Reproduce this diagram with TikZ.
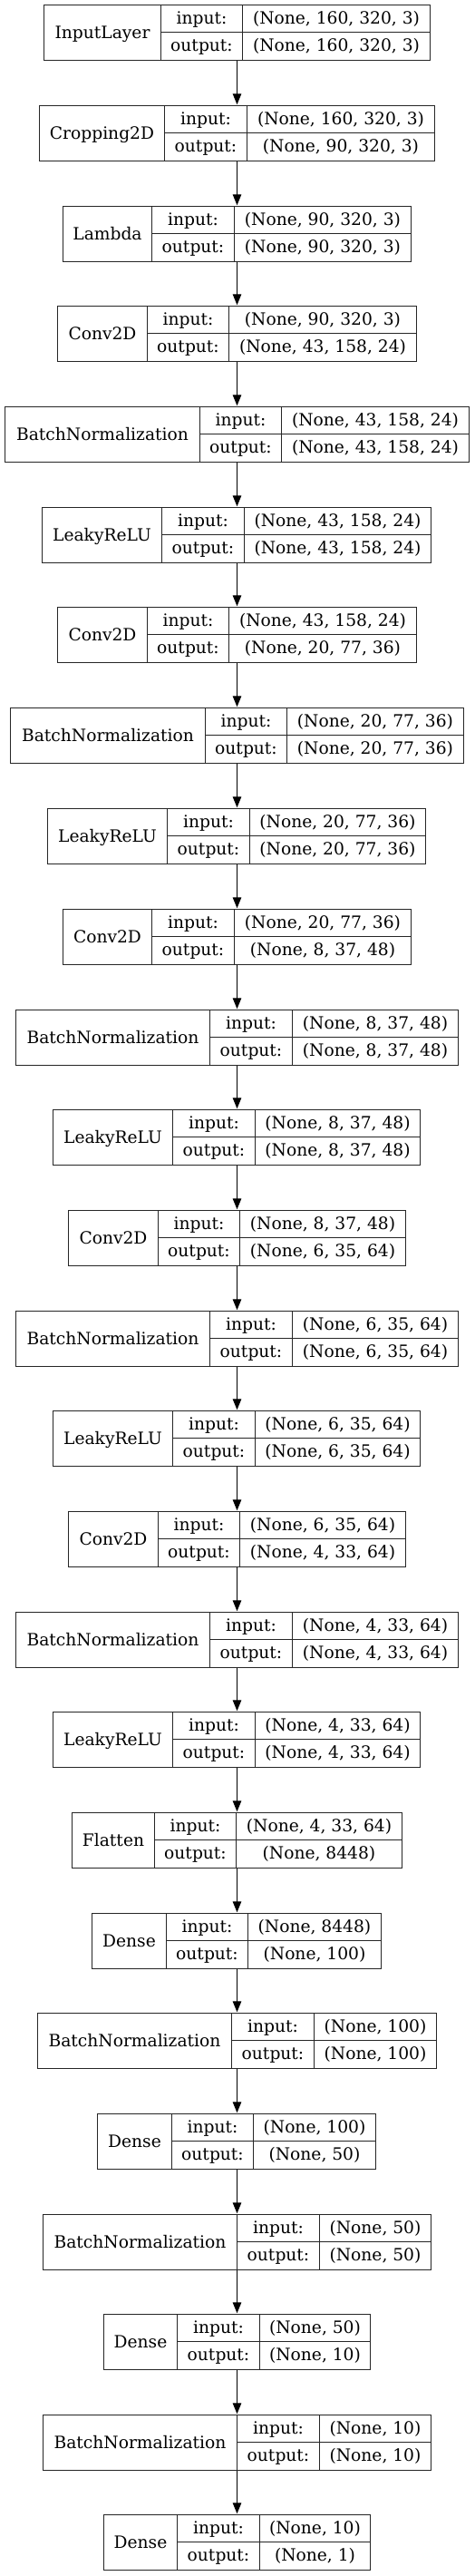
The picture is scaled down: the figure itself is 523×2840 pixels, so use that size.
\documentclass[tikz,border=0pt]{standalone}
\usepackage{fontspec}
\setmainfont{DejaVu Serif}
\usetikzlibrary{arrows.meta}
\tikzset{
  layerbox/.style={draw=black!85, line width=1.3pt, inner sep=0pt, minimum height=61pt},
  cellline/.style={draw=black!85, line width=1.3pt},
  txt/.style={inner sep=0pt, anchor=base, font=\fontsize{18.67}{22}\selectfont, text=black},
  flow/.style={draw=black, line width=1.3pt, -{Triangle[length=12pt,width=9.5pt]}, shorten >=0.6pt},
}
% #1 name, #2 top y, #3 left, #4 first divider, #5 second divider, #6 right, #7 label, #8 input, #9 output
\newcommand\klayer[9]{%
  \pgfmathsetmacro\klyt{#2}%
  \pgfmathsetmacro\klyb{\klyt+61}%
  \pgfmathsetmacro\klym{\klyt+30}%
  \pgfmathsetmacro\klyc{\klyt+30.5}%
  \pgfmathsetmacro\klw{#6-#3}%
  \pgfmathsetmacro\klxc{(#3+#6)/2}%
  \node[layerbox, minimum width=\klw pt] (#1) at (\klxc,\klyc) {};
  \draw[cellline] (#4,\klyt) -- (#4,\klyb);
  \draw[cellline] (#5,\klyt) -- (#5,\klyb);
  \draw[cellline] (#4,\klym) -- (#6,\klym);
  \node[txt] (#1-lab) at ({(#3+#4)/2},{\klyc+6.3}) {#7};
  \node[txt] (#1-ik) at ({(#4+#5)/2},{\klyt+21.1}) {input:};
  \node[txt] (#1-iv) at ({(#5+#6)/2},{\klyt+21.1}) {#8};
  \node[txt] (#1-ok) at ({(#4+#5)/2},{\klym+21.3}) {output:};
  \node[txt] (#1-ov) at ({(#5+#6)/2},{\klym+21.3}) {#9};
}
\begin{document}
\begin{tikzpicture}[x=1pt,y=-1pt]
\useasboundingbox[fill=white] (0,0) rectangle (523,2840);
\coordinate (ax) at (261.5,0);
\klayer{b1}{5.5}{48.5}{177.5}{267.5}{474.5}{InputLayer}{(None, 160, 320, 3)}{(None, 160, 320, 3)}
\klayer{b2}{116.5}{43.5}{181.5}{272.5}{479.5}{Cropping2D}{(None, 160, 320, 3)}{(None, 90, 320, 3)}
\klayer{b3}{227.5}{69.5}{167.5}{258.5}{453.5}{Lambda}{(None, 90, 320, 3)}{(None, 90, 320, 3)}
\klayer{b4}{337.5}{63.5}{162.5}{252.5}{459.5}{Conv2D}{(None, 90, 320, 3)}{(None, 43, 158, 24)}
\klayer{b5}{448.5}{5.5}{220.5}{310.5}{517.5}{BatchNormalization}{(None, 43, 158, 24)}{(None, 43, 158, 24)}
\klayer{b6}{559.5}{46.5}{178.5}{269.5}{475.5}{LeakyReLU}{(None, 43, 158, 24)}{(None, 43, 158, 24)}
\klayer{b7}{669.5}{63.5}{162.5}{252.5}{459.5}{Conv2D}{(None, 43, 158, 24)}{(None, 20, 77, 36)}
\klayer{b8}{780.5}{11.5}{226.5}{316.5}{511.5}{BatchNormalization}{(None, 20, 77, 36)}{(None, 20, 77, 36)}
\klayer{b9}{891.5}{52.5}{184.5}{275.5}{469.5}{LeakyReLU}{(None, 20, 77, 36)}{(None, 20, 77, 36)}
\klayer{b10}{1002.5}{69.5}{167.5}{258.5}{453.5}{Conv2D}{(None, 20, 77, 36)}{(None, 8, 37, 48)}
\klayer{b11}{1113.5}{17.5}{231.5}{322.5}{505.5}{BatchNormalization}{(None, 8, 37, 48)}{(None, 8, 37, 48)}
\klayer{b12}{1223.5}{58.5}{190.5}{281.5}{463.5}{LeakyReLU}{(None, 8, 37, 48)}{(None, 8, 37, 48)}
\klayer{b13}{1334.5}{75.5}{174.5}{264.5}{447.5}{Conv2D}{(None, 8, 37, 48)}{(None, 6, 35, 64)}
\klayer{b14}{1445.5}{17.5}{231.5}{322.5}{505.5}{BatchNormalization}{(None, 6, 35, 64)}{(None, 6, 35, 64)}
\klayer{b15}{1555.5}{58.5}{190.5}{281.5}{463.5}{LeakyReLU}{(None, 6, 35, 64)}{(None, 6, 35, 64)}
\klayer{b16}{1666.5}{75.5}{174.5}{264.5}{447.5}{Conv2D}{(None, 6, 35, 64)}{(None, 4, 33, 64)}
\klayer{b17}{1777.5}{17.5}{231.5}{322.5}{505.5}{BatchNormalization}{(None, 4, 33, 64)}{(None, 4, 33, 64)}
\klayer{b18}{1887.5}{58.5}{190.5}{281.5}{463.5}{LeakyReLU}{(None, 4, 33, 64)}{(None, 4, 33, 64)}
\klayer{b19}{1998.5}{79.5}{170.5}{260.5}{443.5}{Flatten}{(None, 4, 33, 64)}{(None, 8448)}
\klayer{b20}{2109.5}{101.5}{183.5}{273.5}{420.5}{Dense}{(None, 8448)}{(None, 100)}
\klayer{b21}{2219.5}{41.5}{255.5}{346.5}{481.5}{BatchNormalization}{(None, 100)}{(None, 100)}
\klayer{b22}{2330.5}{107.5}{189.5}{279.5}{414.5}{Dense}{(None, 100)}{(None, 50)}
\klayer{b23}{2441.5}{47.5}{261.5}{352.5}{475.5}{BatchNormalization}{(None, 50)}{(None, 50)}
\klayer{b24}{2551.5}{114.5}{195.5}{286.5}{408.5}{Dense}{(None, 50)}{(None, 10)}
\klayer{b25}{2662.5}{47.5}{261.5}{352.5}{475.5}{BatchNormalization}{(None, 10)}{(None, 10)}
\klayer{b26}{2772.5}{114.5}{195.5}{286.5}{408.5}{Dense}{(None, 10)}{(None, 1)}
\foreach \a/\b in {b1/b2,b2/b3,b3/b4,b4/b5,b5/b6,b6/b7,b7/b8,b8/b9,b9/b10,b10/b11,b11/b12,b12/b13,b13/b14,b14/b15,b15/b16,b16/b17,b17/b18,b18/b19,b19/b20,b20/b21,b21/b22,b22/b23,b23/b24,b24/b25,b25/b26}
  \draw[flow] (\a.south -| ax) -- (\b.north -| ax);
\end{tikzpicture}
\end{document}
